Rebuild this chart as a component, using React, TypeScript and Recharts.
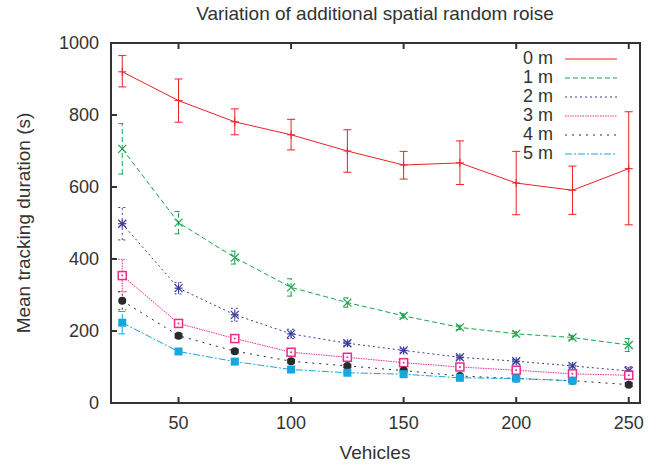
import React from "react";
import {
  ComposedChart,
  Line,
  XAxis,
  YAxis,
  ErrorBar,
  ReferenceArea,
} from "recharts";

const vehicles = [25, 50, 75, 100, 125, 150, 175, 200, 225, 250];

const m0 = [920, 840, 781, 745, 700, 661, 667, 611, 591, 651];
const m0Err = [
  [42, 45],
  [60, 60],
  [36, 36],
  [42, 43],
  [59, 59],
  [39, 38],
  [60, 61],
  [88, 88],
  [67, 67],
  [156, 158],
];
const m1 = [706, 501, 404, 321, 279, 242, 210, 192, 182, 161];
const m1Err = [70, 31, 18, 24, 13, 6, 6, 6, 6, 18];
const m2 = [498, 319, 245, 192, 166, 146, 127, 116, 103, 89];
const m2Err = [45, 16, 18, 13, 6, 5, 5, 5, 5, 12];
const m3 = [354, 221, 179, 141, 127, 112, 100, 91, 81, 77];
const m3Err = [45, 8, 6, 5, 5, 5, 5, 5, 5, 22];
const m4 = [284, 187, 144, 116, 103, 90, 75, 68, 62, 51];
const m4Err = [25, 6, 5, 5, 4, 4, 4, 4, 4, 5];
const m5 = [223, 143, 115, 93, 84, 80, 70, 68, 62, null];
const m5Err = [31, 6, 5, 4, 4, 4, 4, 4, 4, 0];

const xTicks = [50, 100, 150, 200, 250];
const yTicks = [0, 200, 400, 600, 800, 1000];

const seriesNames = ["0 m", "1 m", "2 m", "3 m", "4 m", "5 m"];
const seriesColors = ["#ec2027", "#17a34a", "#3b3b98", "#ec2a8f", "#2b2b2b", "#16a6e0"];
const seriesDash = ["", "5 3", "2 3", "1.5 1", "2 5", "7 2 2 2"];

const data = vehicles.map((v, i) => ({
  x: v,
  m0: m0[i],
  e0: m0Err[i],
  m1: m1[i],
  e1: m1Err[i],
  m2: m2[i],
  e2: m2Err[i],
  m3: m3[i],
  e3: m3Err[i],
  m4: m4[i],
  e4: m4Err[i],
  m5: m5[i],
  e5: m5Err[i],
}));

const FONT = "'Liberation Sans', Arial, sans-serif";
const AXIS = "#333333";

// marker shapes, roughly like the gnuplot point types
function marker(kind: number, color: string) {
  return (props: any) => {
    const { cx, cy, index } = props;
    if (cx == null || cy == null || props.value == null) return <g key={index} />;
    const s = 4;
    if (kind === 0) {
      return (
        <g key={index} stroke={color} strokeWidth={1}>
          <line x1={cx - s} y1={cy} x2={cx + s} y2={cy} />
          <line x1={cx} y1={cy - s} x2={cx} y2={cy + s} />
        </g>
      );
    }
    if (kind === 1) {
      return (
        <g key={index} stroke={color} strokeWidth={1.2}>
          <line x1={cx - s} y1={cy - s} x2={cx + s} y2={cy + s} />
          <line x1={cx - s} y1={cy + s} x2={cx + s} y2={cy - s} />
        </g>
      );
    }
    if (kind === 2) {
      return (
        <g key={index} stroke={color} strokeWidth={1.2}>
          <line x1={cx - s} y1={cy} x2={cx + s} y2={cy} />
          <line x1={cx} y1={cy - s} x2={cx} y2={cy + s} />
          <line x1={cx - s} y1={cy - s} x2={cx + s} y2={cy + s} />
          <line x1={cx - s} y1={cy + s} x2={cx + s} y2={cy - s} />
        </g>
      );
    }
    if (kind === 3) {
      return (
        <g key={index}>
          <rect x={cx - s} y={cy - s} width={2 * s} height={2 * s} fill="#fff" stroke={color} strokeWidth={1.5} />
          <circle cx={cx} cy={cy} r={1} fill={color} />
        </g>
      );
    }
    if (kind === 4) {
      return <circle key={index} cx={cx} cy={cy} r={4} fill={color} />;
    }
    return <rect key={index} x={cx - s} y={cy - s} width={2 * s} height={2 * s} fill={color} />;
  };
}

const noLabel = () => <g />;

export default function App() {
  const keys = ["m0", "m1", "m2", "m3", "m4", "m5"];
  return (
    <div style={{ position: "absolute", left: 0, top: 0, width: 668, height: 466, background: "#fff" }}>
      <ComposedChart
        width={668}
        height={466}
        data={data}
        margin={{ top: 42, right: 27, bottom: 23, left: 51 }}
      >
        <XAxis
          dataKey="x"
          type="number"
          domain={[20, 255]}
          ticks={xTicks}
          allowDataOverflow
          height={40}
          tickSize={-6}
          tickMargin={19}
          stroke={AXIS}
          strokeWidth={2}
          tick={{ fill: "#333", fontSize: 18, fontFamily: FONT }}
        />
        <XAxis
          xAxisId="top"
          orientation="top"
          dataKey="x"
          type="number"
          domain={[20, 255]}
          ticks={xTicks}
          allowDataOverflow
          height={1}
          tickSize={-6}
          stroke={AXIS}
          strokeWidth={2}
          tick={noLabel}
        />
        <YAxis
          type="number"
          domain={[0, 1000]}
          ticks={yTicks}
          width={60}
          tickSize={-6}
          tickMargin={18}
          stroke={AXIS}
          strokeWidth={2}
          tick={{ fill: "#333", fontSize: 18, fontFamily: FONT }}
        />
        <YAxis
          yAxisId="right"
          orientation="right"
          type="number"
          domain={[0, 1000]}
          ticks={yTicks}
          width={1}
          tickSize={-6}
          stroke={AXIS}
          strokeWidth={2}
          tick={noLabel}
        />
        <ReferenceArea
          x1={20}
          x2={255}
          y1={0}
          y2={1000}
          fill="none"
          fillOpacity={0}
          stroke={AXIS}
          strokeWidth={2}
          ifOverflow="visible"
        />
        {keys.map((k, i) => (
          <Line
            key={k}
            dataKey={k}
            name={seriesNames[i]}
            type="linear"
            stroke={seriesColors[i]}
            strokeWidth={1}
            strokeDasharray={seriesDash[i]}
            dot={marker(i, seriesColors[i])}
            activeDot={false}
            isAnimationActive={false}
          >
            <ErrorBar
              dataKey={"e" + i}
              width={4}
              stroke={seriesColors[i]}
              strokeWidth={1}
              strokeDasharray={seriesDash[i]}
              direction="y"
            />
          </Line>
        ))}
      </ComposedChart>
      <div
        style={{
          position: "absolute",
          left: 515,
          top: 49,
          fontFamily: FONT,
          fontSize: 18,
          color: "#333",
        }}
      >
        {seriesNames.map((name, i) => (
          <div key={name} style={{ display: "flex", alignItems: "center", height: 19 }}>
            <span style={{ width: 38, textAlign: "right", lineHeight: "19px" }}>{name}</span>
            <svg width={64} height={19} style={{ marginLeft: 12 }}>
              <line
                x1={0}
                y1={10}
                x2={52}
                y2={10}
                stroke={seriesColors[i]}
                strokeWidth={1}
                strokeDasharray={seriesDash[i]}
              />
            </svg>
          </div>
        ))}
      </div>
      <svg
        width={668}
        height={466}
        style={{ position: "absolute", left: 0, top: 0, pointerEvents: "none" }}
      >
        <text x={375} y={20} textAnchor="middle" fontFamily={FONT} fontSize={19} fill="#333">
          Variation of additional spatial random roise
        </text>
        <text x={375} y={459} textAnchor="middle" fontFamily={FONT} fontSize={19} fill="#333">
          Vehicles
        </text>
        <text
          x={0}
          y={0}
          transform="translate(30 223) rotate(-90)"
          textAnchor="middle"
          fontFamily={FONT}
          fontSize={19}
          fill="#333"
        >
          Mean tracking duration (s)
        </text>
      </svg>
    </div>
  );
}
